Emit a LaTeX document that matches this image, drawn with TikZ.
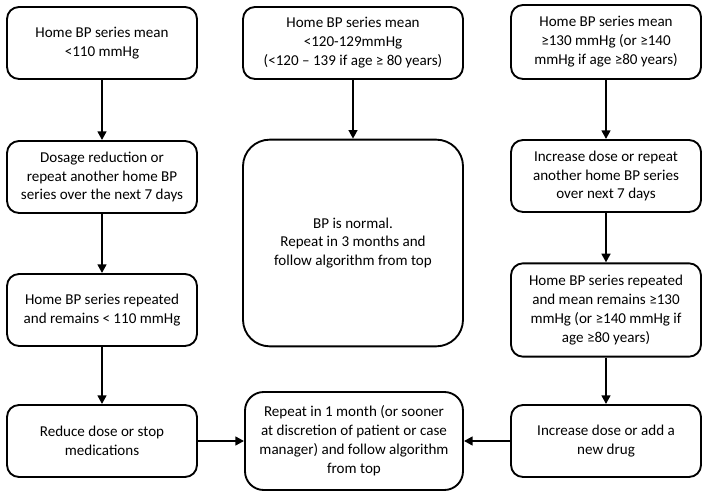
\documentclass[tikz,border=0pt]{standalone}
\usepackage{fontspec}
\setmainfont{Carlito}
\usetikzlibrary{arrows.meta}
\begin{document}
\begin{tikzpicture}[x=0.75pt,y=-0.75pt,
	stepbox/.style={draw,line width=1.4pt,rounded corners=9pt,align=center,
		font=\fontsize{11.3}{14.2}\selectfont,inner sep=2pt},
	colbox/.style={stepbox,minimum width=142.5pt,minimum height=54pt},
	flow/.style={line width=2pt,-{Triangle[length=6.5pt,width=6.5pt]}}]
	\useasboundingbox (0,0) rectangle (704,502);
	% left column
	\node[colbox] (low) at (102,43) {Home BP series mean\\<110 mmHg};
	\node[colbox] (lowred) at (102,177) {Dosage reduction or\\repeat another home BP\\series over the next 7 days};
	\node[colbox] (lowrep) at (102,310) {Home BP series repeated\\and remains < 110 mmHg};
	\node[colbox] (lowstop) at (102,441) {Reduce dose or stop\\medications};
	% middle column
	\node[stepbox,minimum width=165pt,minimum height=54pt] (mid) at (353,43) {Home BP series mean\\<120-129mmHg\\(<120 – 139 if age ≥ 80 years)};
	\node[stepbox,rounded corners=20pt,minimum width=165pt,minimum height=155pt] (normal) at (353,243) {BP is normal.\\Repeat in 3 months and\\follow algorithm from top};
	\node[stepbox,rounded corners=14pt,minimum width=163.5pt,minimum height=73.5pt] (repeat) at (354,441) {Repeat in 1 month (or sooner\\at discretion of patient or case\\manager) and follow algorithm\\from top};
	% right column
	\node[colbox,minimum height=55.5pt] (high) at (606,42) {Home BP series mean\\≥130 mmHg (or ≥140\\mmHg if age ≥80 years)};
	\node[colbox] (highinc) at (606,176) {Increase dose or repeat\\another home BP series\\over next 7 days};
	\node[colbox,minimum height=70pt] (highrep) at (606,310) {Home BP series repeated\\and mean remains ≥130\\mmHg (or ≥140 mmHg if\\age ≥80 years)};
	\node[colbox] (highdrug) at (606,441) {Increase dose or add a\\new drug};
	% connectors
	\draw[flow] (low) -- (lowred);
	\draw[flow] (lowred) -- (lowrep);
	\draw[flow] (lowrep) -- (lowstop);
	\draw[flow] (mid) -- (normal);
	\draw[flow] (high) -- (highinc);
	\draw[flow] (highinc) -- (highrep);
	\draw[flow] (highrep) -- (highdrug);
	\draw[flow] (lowstop) -- (repeat.west |- lowstop);
	\draw[flow] (highdrug) -- (repeat.east |- highdrug);
\end{tikzpicture}
\end{document}
